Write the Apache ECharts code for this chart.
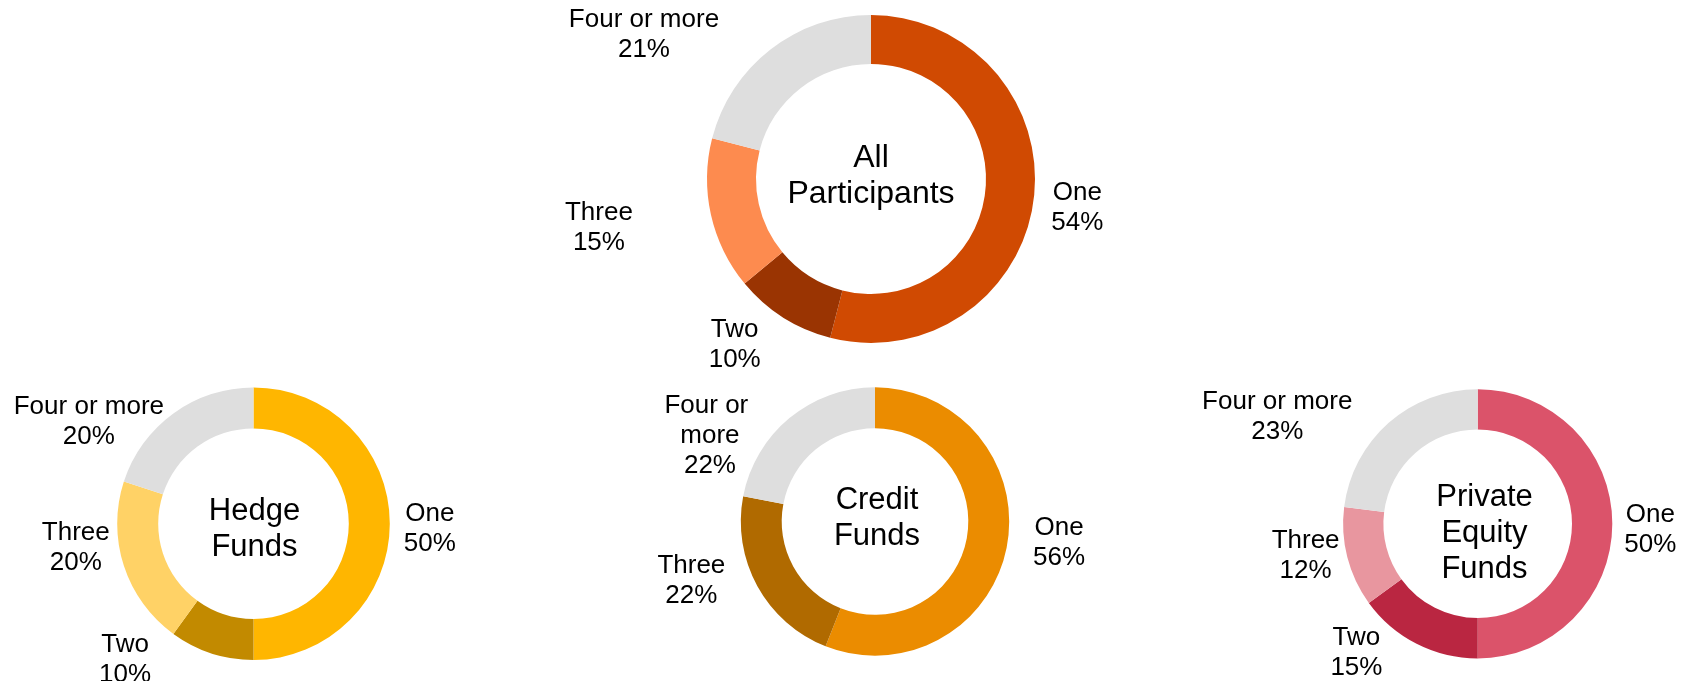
<!DOCTYPE html>
<html><head><meta charset="utf-8">
<script src="https://cdn.jsdelivr.net/npm/echarts@6/dist/echarts.min.js"></script>
<style>html,body{margin:0;padding:0;background:#fff}#c{width:1691px;height:681px}</style>
</head><body><div id="c"></div>
<script>
// ---- data ----
const categories = ['One', 'Two', 'Three', 'Four or more'];
const groupNames = ['All\nParticipants', 'Hedge\nFunds', 'Credit\nFunds', 'Private\nEquity\nFunds'];
const allParticipants = [54, 10, 15, 21];
const hedgeFunds = [50, 10, 20, 20];
const creditFunds = [56, 0, 22, 22];
const privateEquityFunds = [50, 15, 12, 23];
const seriesValues = [allParticipants, hedgeFunds, creditFunds, privateEquityFunds];

// ---- layout / style ----
const layout = [
  { center: [871, 179], radius: [115, 164], title: [871, 176], titleSize: 32,
    colors: ['#D04A02', '#9A3402', '#FD8B4F', '#DEDEDE'],
    offsets: [[4, 3], [-27, -6], [-73, 4], [-102, 17]] },
  { center: [253.5, 523.7], radius: [95.3, 136.3], title: [254.5, 529.5], titleSize: 31,
    colors: ['#FFB600', '#C28A00', '#FFD266', '#DEDEDE'],
    offsets: [[0, 5], [-74, -32], [-10, -30], [-61, 41]] },
  { center: [875, 521.5], radius: [93.3, 134.2], title: [877, 518.8], titleSize: 31, labelWidth: 100,
    colors: ['#EB8C00', '#8A5200', '#B06A00', '#DEDEDE'],
    offsets: [[13, -11], [0, 0], [-31, -25], [-54, 49]] },
  { center: [1477.7, 523.8], radius: [94.3, 134.6], title: [1484.5, 533], titleSize: 31,
    colors: ['#DB536A', '#BA2641', '#E8969F', '#DEDEDE'],
    offsets: [[-2, 6], [-42, -27], [-3, -11], [-85, 24]] }
];
const FONT = '"Liberation Sans", Arial, sans-serif';

const chart = echarts.init(document.getElementById('c'), null, { renderer: 'canvas' });

const series = seriesValues.map((vals, si) => {
  const l = layout[si];
  const label = {
    show: true, position: 'outside', formatter: '{b}\n{c}%',
    fontFamily: FONT, fontSize: 26, lineHeight: 30, color: '#000',
    distanceToLabelLine: 0
  };
  if (l.labelWidth) { label.width = l.labelWidth; label.overflow = 'break'; }
  return {
    type: 'pie',
    center: l.center,
    radius: l.radius,
    startAngle: 90,
    clockwise: true,
    avoidLabelOverlap: false,
    minShowLabelAngle: 0.5,
    silent: true,
    itemStyle: { borderWidth: 0 },
    label: label,
    labelLine: { show: false, length: 40, length2: 0 },
    labelLayout: function (p) {
      const off = l.offsets[p.dataIndex] || [0, 0];
      const r = p.labelRect;
      const ax = p.align === 'left' ? r.x : (p.align === 'right' ? r.x + r.width : r.x + r.width / 2);
      const ay = r.y + r.height / 2;
      return { x: ax + off[0], y: ay + off[1], align: 'center', verticalAlign: 'middle' };
    },
    data: vals.map((v, i) => ({ name: categories[i], value: v, itemStyle: { color: l.colors[i] } }))
  };
});

chart.setOption({
  animation: false,
  backgroundColor: '#fff',
  series: series,
  graphic: layout.map((l, i) => ({
    type: 'text', x: l.title[0], y: l.title[1], silent: true,
    style: { text: groupNames[i], align: 'center', verticalAlign: 'middle',
      fontFamily: FONT, fontSize: l.titleSize, lineHeight: 36, fill: '#000' }
  }))
});
</script>
</body></html>
